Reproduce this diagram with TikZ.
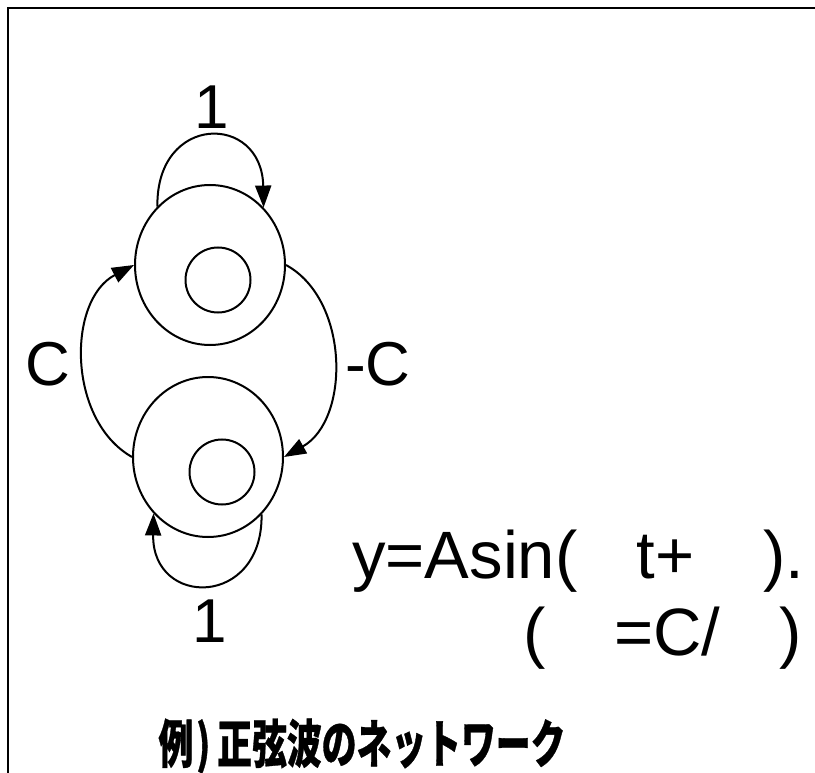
\documentclass[tikz,border=0pt]{standalone}
\usepackage{fontspec}
\setmainfont{Liberation Sans}
\newfontfamily\jpfont[FakeStretch=0.67,FakeBold=0.6]{Noto Sans CJK JP}
\usetikzlibrary{shapes.geometric,arrows.meta}
\begin{document}
\begin{tikzpicture}[x=1pt,y=-1pt,
  outer/.style={draw, ellipse, line width=2pt, minimum width=150pt, minimum height=160pt, inner sep=0pt},
  innerc/.style={draw, circle, line width=2pt, minimum size=65pt, inner sep=0pt},
  conn/.style={line width=2pt, -{Triangle[length=22pt,width=16pt]}},
  lbl/.style={font=\fontsize{62}{62}\selectfont, inner sep=0pt, anchor=base},
  eq/.style={font=\fontsize{67}{67}\selectfont, inner sep=0pt, anchor=base west},
  border/.style={line width=2pt}
]
\useasboundingbox (0,0) rectangle (815,773);
\draw[border] (8,773) -- (8,8) -- (815,8);

\node[outer] (n1) at (210,265) {};
\node[innerc] (n1in) at (218,280) {};
\node[outer] (n2) at (208,457) {};
\node[innerc] (n2in) at (222,472) {};

\draw[conn] (n1.132) .. controls (156,113) and (262,113) .. (n1.47);
\draw[conn] (n2.west) .. controls (67,420) and (67,300) .. (n1.west);
\draw[conn] (n1.east) .. controls (350,300) and (350,420) .. (n2.east);
\draw[conn] (n2.-47) .. controls (263,608) and (152,608) .. (n2.226);

\node[lbl] (one1) at (212,129) {1};
\node[lbl] (one2) at (210,642) {1};
\node[lbl] (cl) at (48,385) {C};
\node[lbl] (cr) at (378,385) {-C};

\node[eq] (eq1) at (352,578) {y=Asin(\hspace{59pt}t+\hspace{69pt}).};
\node[eq] (eq2) at (523,655) {(\hspace{69pt}=C/\hspace{59pt})};

\node[font=\jpfont\bfseries\fontsize{52}{52}\selectfont, inner sep=0pt, anchor=base] (title) at (362,763) {例\hspace{3pt})\hspace{7pt}正弦波のネットワーク};
\end{tikzpicture}
\end{document}
